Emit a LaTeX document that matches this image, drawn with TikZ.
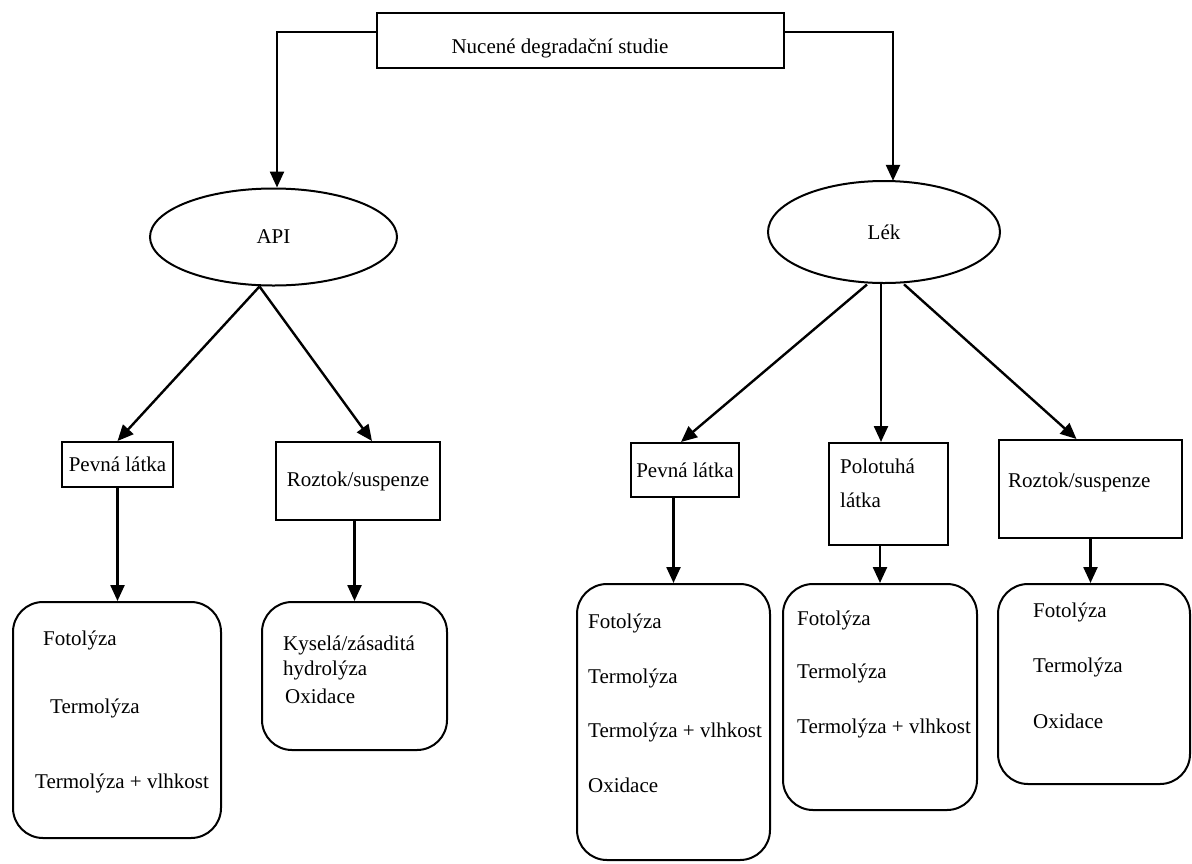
\documentclass[tikz,border=0pt]{standalone}
\usepackage{fontspec}
\setmainfont{Liberation Serif}
\usetikzlibrary{shapes.geometric,arrows.meta,calc}
\begin{document}
\begin{tikzpicture}[x=1pt,y=-1pt,
  every node/.style={font=\fontsize{21}{25}\selectfont},
  box/.style={draw, line width=2pt, inner sep=0pt},
  rbox/.style={draw, line width=2pt, rounded corners=30pt, inner sep=0pt},
  oval/.style={draw, ellipse, line width=2pt, inner sep=0pt},
  lab/.style={anchor=west, inner sep=0pt},
  arr/.style={line width=2.4pt, -{Triangle[length=16pt,width=14pt]}}]
\useasboundingbox (0,0) rectangle (1192,863);

% top
\node[box, minimum width=407pt, minimum height=55pt] (top) at (580.5,40.5) {};
\node[inner sep=0pt] (topT) at (560,48) {Nucené degradační studie};

% ellipses
\node[oval, minimum width=247pt, minimum height=97pt] (api) at (273.5,237) {API};
\node[oval, minimum width=232pt, minimum height=102pt] (lek) at (884,232) {Lék};

% middle boxes
\node[box, minimum width=111pt, minimum height=45pt] (pevA) at (117.5,464.5) {Pevná látka};
\node[box, minimum width=164pt, minimum height=78pt] (rozA) at (358,481) {Roztok/suspenze};
\node[box, minimum width=108pt, minimum height=54pt] (pevL) at (685,470) {Pevná látka};
\node[box, minimum width=119pt, minimum height=102pt] (polL) at (888.5,494) {};
\node[lab] (polT1) at (840,466) {Polotuhá};
\node[lab] (polT2) at (840,500) {látka};
\node[box, minimum width=183pt, minimum height=98pt] (rozL) at (1090.5,489) {};
\node[lab] (rozLT) at (1008,482) {Roztok/suspenze};

% bottom boxes
\node[rbox, minimum width=208pt, minimum height=236pt] (solA) at (117,720) {};
\node[lab] (a1) at (43,640) {Fotolýza};
\node[lab] (a2) at (50,708) {Termolýza};
\node[lab] (a3) at (35,783) {Termolýza + vlhkost};

\node[rbox, minimum width=185pt, minimum height=148pt] (rozS) at (354.5,676) {};
\node[lab] (b1) at (283,645) {Kyselá/zásaditá};
\node[lab] (b2) at (283,670) {hydrolýza};
\node[lab] (b3) at (285,696) {Oxidace};

\node[rbox, minimum width=193pt, minimum height=276pt] (solL) at (673.5,722) {};
\node[lab] (c1) at (588,623) {Fotolýza};
\node[lab] (c2) at (588,678) {Termolýza};
\node[lab] (c3) at (588,732) {Termolýza + vlhkost};
\node[lab] (c4) at (588,785) {Oxidace};

\node[rbox, minimum width=194pt, minimum height=226pt] (polS) at (880,697) {};
\node[lab] (d1) at (797,620) {Fotolýza};
\node[lab] (d2) at (797,673) {Termolýza};
\node[lab] (d3) at (797,728) {Termolýza + vlhkost};

\node[rbox, minimum width=192pt, minimum height=200pt] (rozLS) at (1094,684) {};
\node[lab] (e1) at (1033,612) {Fotolýza};
\node[lab] (e2) at (1033,667) {Termolýza};
\node[lab] (e3) at (1033,721) {Oxidace};

% connectors
\draw[arr] (top.west |- 0,32) -| ($(api.north)+(3.5,0)$);
\draw[arr] (top.east |- 0,32) -| ($(lek.north)+(9,0.8)$);

\coordinate (apiB) at ($(api.south)+(-14,0)$);
\draw[arr] (apiB) -- (pevA.north);
\draw[arr] (apiB) -- ($(rozA.north)+(14,0)$);

\coordinate (lekM) at ($(lek.south)+(-3,0)$);
\draw[arr] ($(lek.south)+(-17,0.5)$) -- ($(pevL.north)+(-4,0)$);
\draw[arr] (lekM) -- (lekM |- polL.north);
\draw[arr] ($(lek.south)+(20,0.3)$) -- ($(rozL.north)+(-14,0)$);

\draw[arr] (pevA.south) -- (pevA.south |- solA.north);
\draw[arr] (rozS.north |- rozA.south) -- (rozS.north);
\draw[arr] (solL.north |- pevL.south) -- (solL.north);
\draw[arr] (polS.north |- polL.south) -- (polS.north);
\draw[arr] (rozL.south) -- (rozL.south |- rozLS.north);
\end{tikzpicture}
\end{document}
